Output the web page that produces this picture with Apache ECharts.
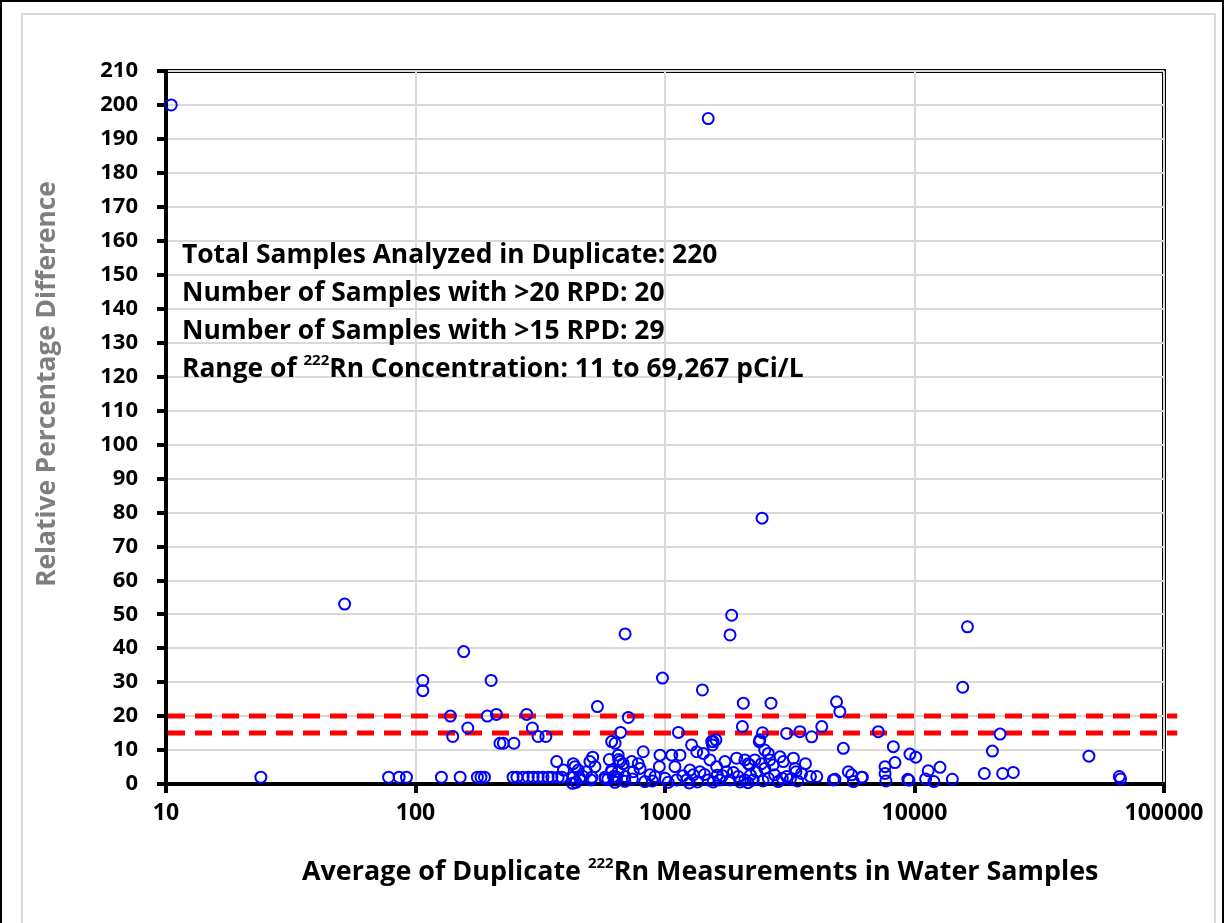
<!DOCTYPE html>
<html>
<head>
<meta charset="utf-8">
<script src="https://cdn.jsdelivr.net/npm/echarts@6/dist/echarts.min.js"></script>
<style>
  html, body { margin: 0; padding: 0; background: #fff; }
  #chart { width: 1225px; height: 923px; }
</style>
</head>
<body>
<div id="chart"></div>
<script>
// average of duplicate measurements (pCi/L) and relative percentage difference
const lowRange = [
  [10.5, 200], [24, 2], [52, 53], [78, 2], [86, 2], [92, 2]
];
const midRange = [
  [107, 30.5], [107, 27.5], [127, 2], [138, 20], [141, 14], [151, 2], [156, 39], [162, 16.5],
  [177, 2], [183, 2], [189, 2], [194, 20], [201, 30.5], [211, 20.5], [218, 12], [225, 12],
  [248, 12], [279, 20.5], [294, 16.5], [310, 14], [333, 14],
  [246, 2], [255, 2], [270, 2], [283, 2], [296, 2], [310, 2], [324, 2], [340, 2], [352, 2], [373, 2], [386, 2],
  [368, 6.6], [392, 4.1], [429, 6], [436, 5.1], [449, 4.1], [426, 0.2], [429, 2], [470, 2.2], [485, 3.6],
  [500, 6.6], [513, 7.9], [524, 5.1], [509, 2], [536, 22.8], [575, 2], [598, 7.2], [611, 4.1], [621, 2.2],
  [611, 12.5], [631, 12], [649, 8.5], [660, 6.6], [649, 3.6], [640, 2], [664, 15.2], [692, 44.2], [713, 19.6],
  [680, 6], [735, 6.6], [781, 6], [794, 4.6], [746, 3.6], [692, 2.2], [631, 2.2], [818, 9.5], [871, 2.7],
  [912, 2.2], [955, 8.5], [949, 5.1], [977, 31.2], [611, 3.6], [652, 7.2], [590, 1.4], [455, 1.8],
  [440, 0.5], [505, 1.2], [575, 1.5], [630, 0.5], [690, 0.8], [740, 1.5], [830, 0.7], [890, 0.9]
];
const highRange = [
  [1000, 1.7], [1064, 8.5], [1148, 8.5], [1096, 5.1], [1113, 1.2], [1132, 15.2], [1222, 1.2], [1278, 11.5],
  [1259, 4.1], [1298, 2.7], [1340, 9.5], [1380, 3.6], [1424, 9], [1412, 27.7], [1490, 1.2], [1490, 196],
  [1514, 7.1], [1538, 12.5], [1600, 13], [1610, 5.1], [1560, 12.5], [1550, 11.5], [1660, 1.2], [1738, 6.6],
  [1766, 3.6], [1820, 1.2], [1822, 43.9], [1850, 49.7], [1936, 7.6], [1965, 2.2], [2042, 16.9], [2060, 23.8],
  [2157, 6], [2090, 1.2], [2090, 7.1], [2188, 5.6], [2290, 7.1], [2327, 3.6], [2258, 1.2], [2400, 13],
  [2387, 12.5], [2460, 15.1], [2438, 6], [2449, 78.3], [2510, 10], [2512, 4.6], [2594, 9], [2594, 1.7],
  [2630, 7.1], [2660, 23.8], [2714, 5.6], [2750, 2.7], [2844, 0.7], [2890, 8], [2980, 6.6], [3073, 14.9],
  [3073, 2.2], [3270, 7.6], [3320, 4.6], [3350, 3.6], [3473, 15.4], [3526, 3.1], [3655, 6], [3828, 2.2],
  [3870, 13.9], [4057, 2.2], [4250, 16.9], [4730, 1.2], [4870, 24.2], [5020, 21.3], [5185, 10.5], [5430, 3.6],
  [5600, 2.7], [5690, 0.7], [6140, 2], [7160, 15.4], [4800, 1.4], [6180, 2], [1180, 2.4], [1350, 0.6],
  [1440, 2.8], [1700, 2.4], [1880, 3.4], [2000, 0.6], [2200, 2.6], [3180, 1.4],
  [1030, 0.5], [1250, 0.3], [1560, 0.6], [1620, 2.6], [2150, 0.4], [2470, 0.9], [2950, 1.7], [3400, 0.9]
];
const topRange = [
  [7620, 5.1], [7620, 3.1], [7680, 0.9], [8225, 11], [8350, 6.3], [9590, 8.8], [10120, 7.9], [9400, 1.4],
  [9500, 1.1], [11350, 3.9], [11080, 1.5], [11960, 0.7], [12650, 4.9], [14180, 1.4], [15600, 28.5],
  [16300, 46.3], [22030, 14.7], [20520, 9.7], [19050, 3.1], [22560, 3.1], [24890, 3.4], [50000, 8.2],
  [66200, 2.2], [67000, 1.5]
];
// RPD limit lines (value, from, to)
const limits = [[20, 10, 113000], [15, 10, 113000]];

const infoLines = [
  "Total Samples Analyzed in Duplicate: 220",
  "Number of Samples with >20 RPD: 20",
  "Number of Samples with >15 RPD: 29"
];

const points = [].concat(lowRange, midRange, highRange, topRange);
const font = "Open Sans";

const chart = echarts.init(document.getElementById("chart"), null, { renderer: "canvas" });

const graphics = [
  { type: "rect", shape: { x: 1, y: 1, width: 1222, height: 1000 }, style: { fill: null, stroke: "#000", lineWidth: 2 }, silent: true },
  { type: "rect", shape: { x: 22, y: 14, width: 1193, height: 1000 }, style: { fill: null, stroke: "#d9d9d9", lineWidth: 2 }, silent: true }
];
infoLines.forEach((t, i) => {
  graphics.push({
    type: "text", left: 182, top: 242 + i * 38, z: 10,
    style: { text: t, font: "bold 26.4px '" + font + "'", fill: "#000" }
  });
});
graphics.push({
  type: "text", left: 182, top: 353, z: 10,
  style: {
    text: "{a|Range of }{s|222}{a|Rn Concentration: 11 to 69,267 pCi/L}",
    rich: {
      a: { fontFamily: font, fontWeight: "bold", fontSize: 26.4, color: "#000", lineHeight: 32 },
      s: { fontFamily: font, fontWeight: "bold", fontSize: 15, color: "#000", verticalAlign: "top", lineHeight: 32 }
    }
  }
});
graphics.push({
  type: "text", left: 302, top: 856, z: 10,
  style: {
    text: "{a|Average of Duplicate }{s|222}{a|Rn Measurements in Water Samples}",
    rich: {
      a: { fontFamily: font, fontWeight: "bold", fontSize: 26.9, color: "#000", lineHeight: 32 },
      s: { fontFamily: font, fontWeight: "bold", fontSize: 15, color: "#000", verticalAlign: "top", lineHeight: 32 }
    }
  }
});
graphics.push({
  type: "text", x: 48, y: 384, rotation: Math.PI / 2, z: 10,
  style: {
    text: "Relative Percentage Difference",
    font: "bold 26.3px '" + font + "'", fill: "#7f7f7f",
    align: "center", verticalAlign: "middle"
  }
});

const option = {
  animation: false,
  backgroundColor: "#fff",
  graphic: graphics,
  grid: {
    left: 166, top: 71, right: 61, bottom: 139,
    show: true, borderColor: "#000", borderWidth: 4
  },
  xAxis: {
    type: "log",
    logBase: 10,
    min: 10,
    max: 100000,
    axisLine: { lineStyle: { color: "#000", width: 4 } },
    axisTick: { show: true, length: 9, lineStyle: { color: "#000", width: 4 } },
    minorTick: { show: false },
    axisLabel: {
      color: "#000", fontFamily: font, fontWeight: "bold", fontSize: 23, margin: 18,
      formatter: (v) => String(Math.round(v))
    },
    splitLine: { show: true, lineStyle: { color: "#d9d9d9", width: 2 } }
  },
  yAxis: {
    type: "value",
    min: 0,
    max: 210,
    interval: 10,
    axisLine: { show: true, lineStyle: { color: "#000", width: 4 } },
    axisTick: { show: true, length: 9, lineStyle: { color: "#000", width: 4 } },
    axisLabel: { color: "#000", fontFamily: font, fontWeight: "bold", fontSize: 22, margin: 28 },
    splitLine: { show: true, lineStyle: { color: "#d9d9d9", width: 2 } }
  },
  series: [
    {
      type: "scatter",
      data: points,
      symbol: "circle",
      symbolSize: 11,
      itemStyle: { color: "rgba(0,0,0,0)", borderColor: "#0000ff", borderWidth: 2, opacity: 1 },
      z: 5
    },
    {
      type: "custom",
      data: limits,
      clip: false,
      z: 4,
      encode: { x: [1, 2], y: 0 },
      renderItem: (params, api) => {
        const a = api.coord([api.value(1), api.value(0)]);
        const b = api.coord([api.value(2), api.value(0)]);
        return {
          type: "line",
          shape: { x1: a[0] + 2, y1: a[1], x2: b[0], y2: b[1] },
          style: { stroke: "#ff0000", lineWidth: 5, lineDash: [17, 10] }
        };
      }
    }
  ]
};

chart.setOption(option);
</script>
</body>
</html>
